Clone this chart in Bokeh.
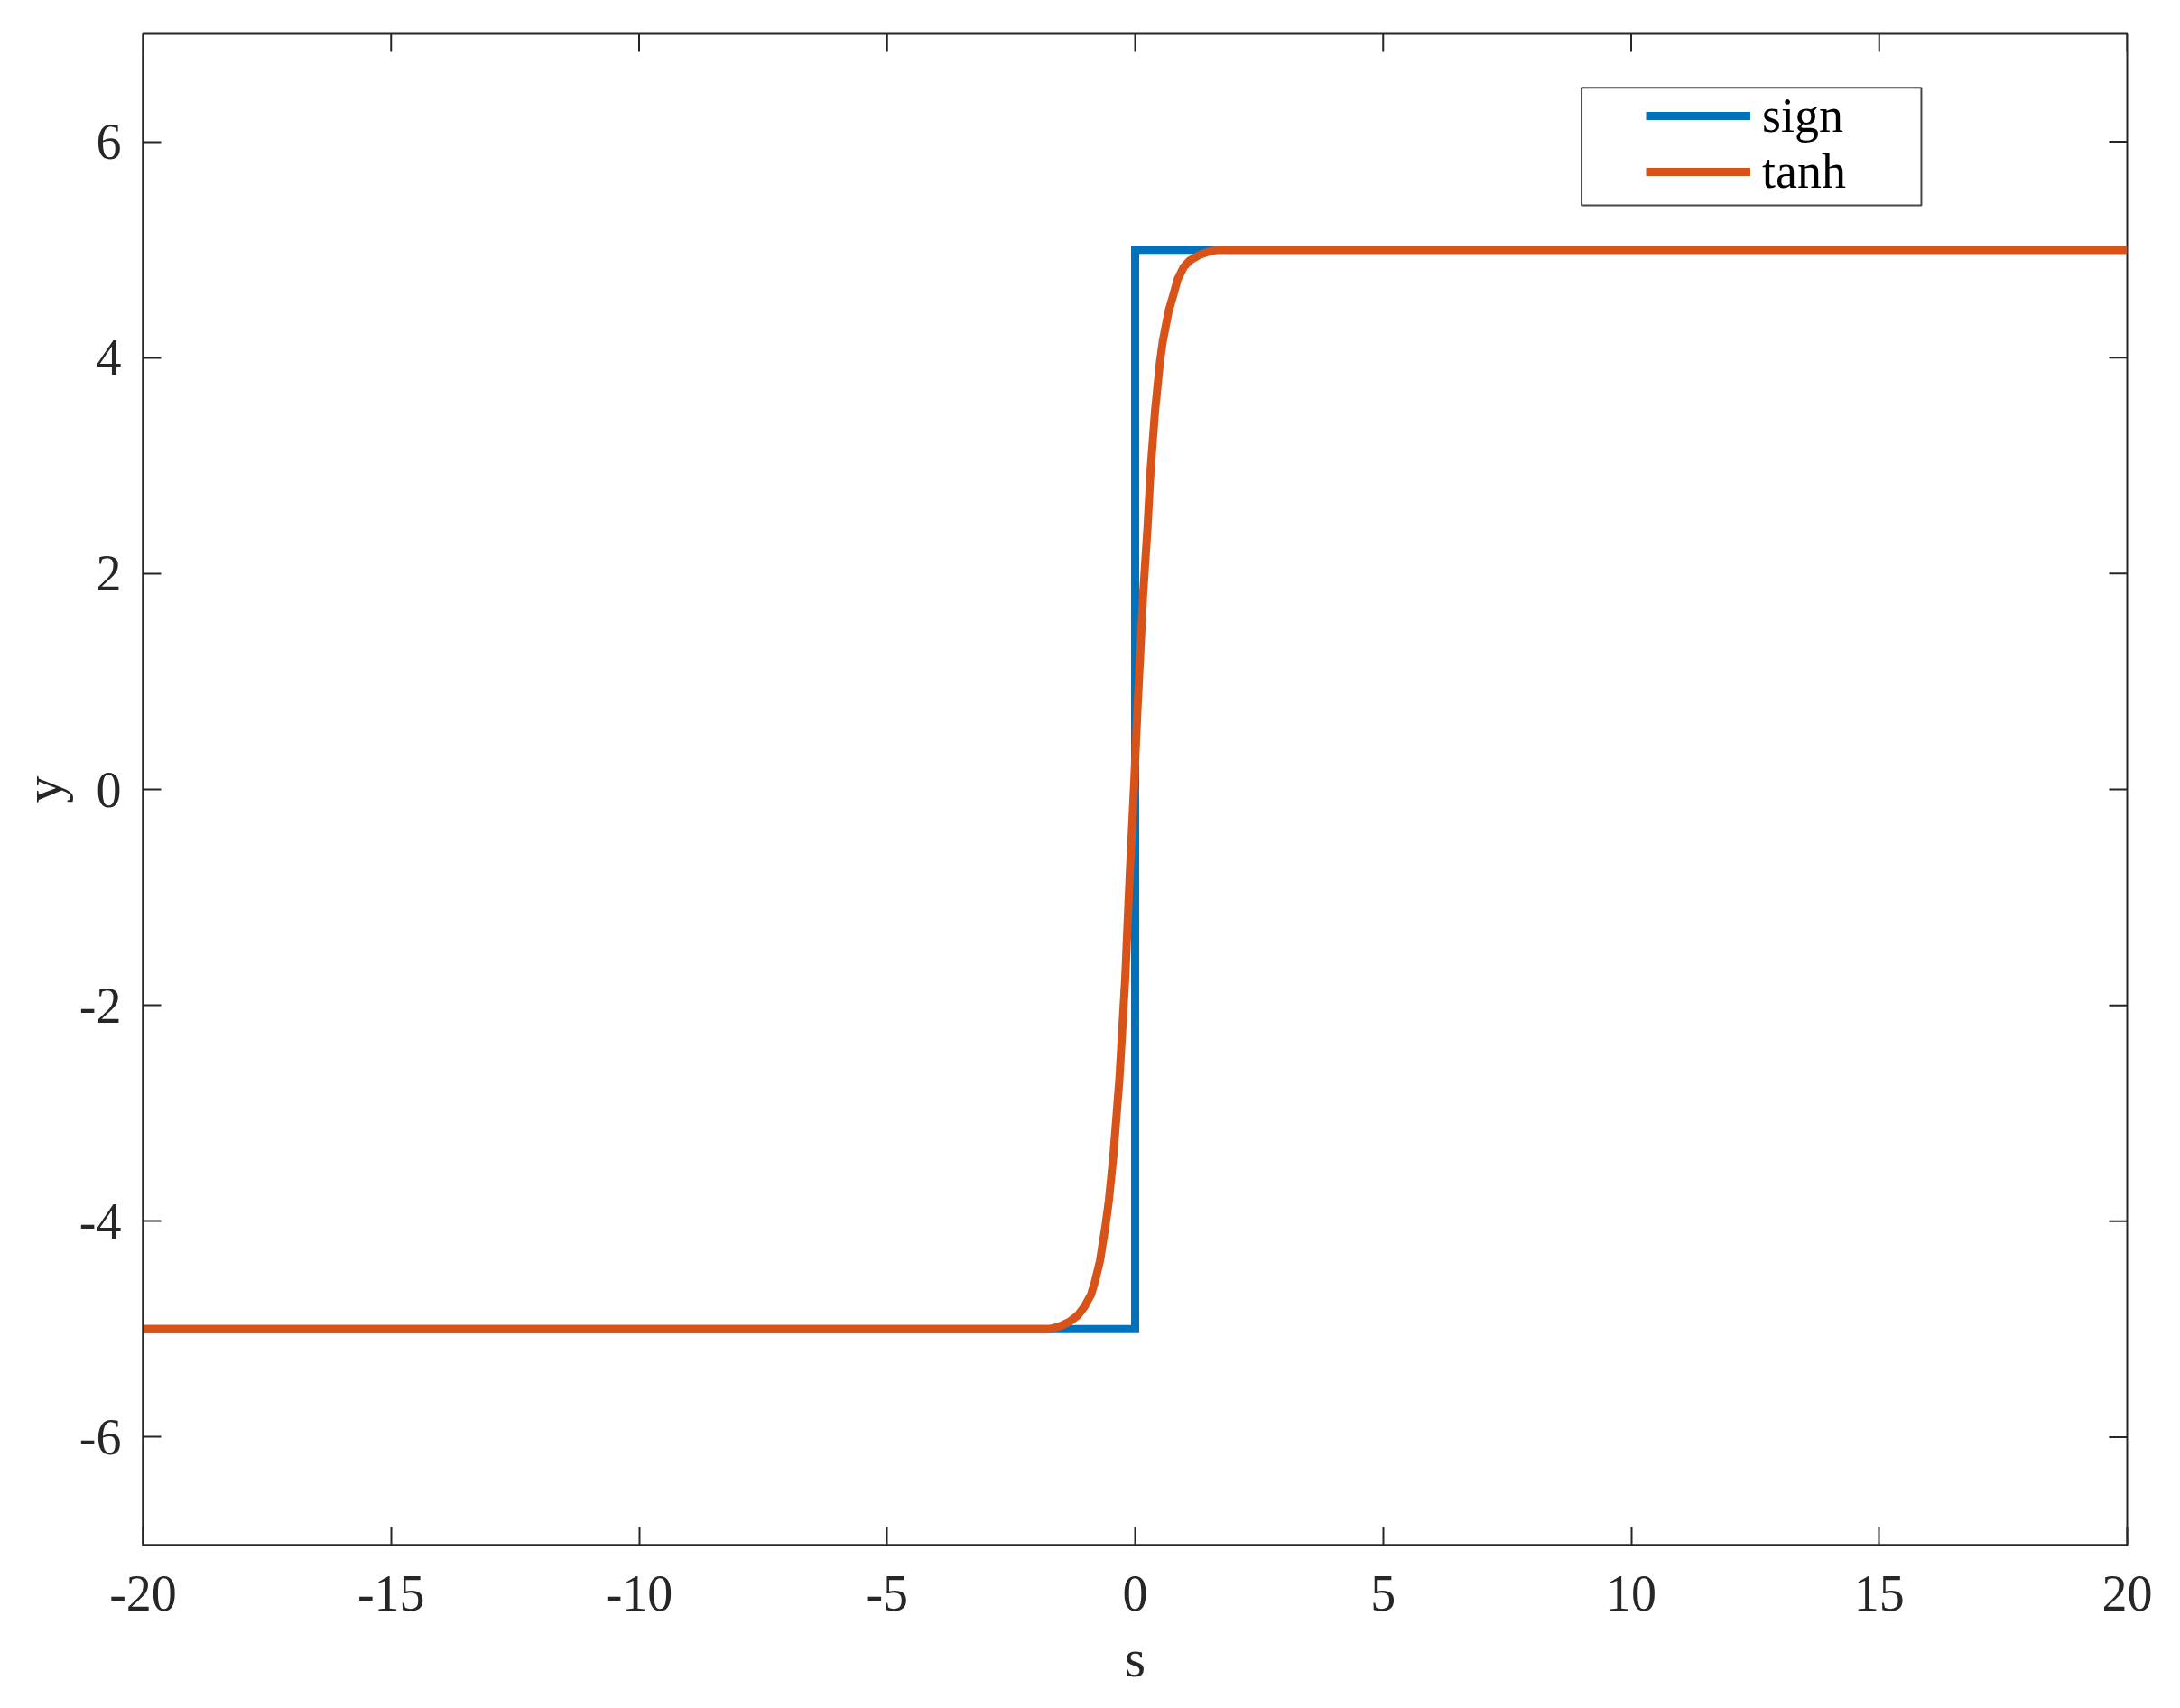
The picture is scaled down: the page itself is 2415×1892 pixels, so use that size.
import math
from bokeh.plotting import figure
from bokeh.models import Range1d, FixedTicker, Legend, LegendItem, BoxAnnotation, CustomJSTickFormatter
from bokeh.embed import file_html
from bokeh.resources import INLINE

# ---- data ----
sign_s = [-20, 0, 0, 20]
sign_y = [-5, -5, 5, 5]

tanh_s = [-20, -1.72, -1.50, -1.32, -1.15, -1.02, -0.89, -0.81, -0.71, -0.60,
          -0.53, -0.44, -0.38, -0.32, -0.29, -0.20, -0.11, -0.02, 0.04, 0.13,
          0.16, 0.25, 0.31, 0.40, 0.50, 0.56, 0.62, 0.68, 0.77, 0.86, 0.98,
          1.10, 1.29, 1.47, 1.65, 20]
tanh_y = [-5, -5.00, -4.97, -4.93, -4.87, -4.79, -4.68, -4.56, -4.37, -4.05,
          -3.81, -3.40, -3.05, -2.70, -2.47, -1.75, -0.80, 0.05, 0.68, 1.51,
          1.80, 2.43, 2.95, 3.50, 3.96, 4.16, 4.30, 4.44, 4.58, 4.73, 4.84,
          4.90, 4.95, 4.98, 5.00, 5]

x_ticks = [-20, -15, -10, -5, 0, 5, 10, 15, 20]
y_ticks = [-6, -4, -2, 0, 2, 4, 6]
x_min, x_max = -20, 20
y_min, y_max = -7, 7
x_label = "s"
y_label = "y"
names = ["sign", "tanh"]

BLUE = "#0072BD"
ORANGE = "#D95319"
AX = "#262626"
FONT = "Liberation Serif"

p = figure(width=2415, height=1892, output_backend="svg", toolbar_location=None,
           x_range=Range1d(x_min, x_max), y_range=Range1d(y_min, y_max),
           min_border_left=158, min_border_right=59, min_border_top=37, min_border_bottom=181)
p.xgrid.visible = False
p.ygrid.visible = False
p.outline_line_color = AX
p.outline_line_width = 2
p.background_fill_color = "white"
p.border_fill_color = "white"

fmt = CustomJSTickFormatter(code="return tick.toFixed(0)")

def style_axis(ax, ticks):
    ax.ticker = FixedTicker(ticks=ticks)
    ax.formatter = fmt
    ax.minor_tick_line_color = None
    ax.major_tick_in = 20
    ax.major_tick_out = 0
    ax.major_tick_line_color = AX
    ax.major_tick_line_width = 2
    ax.axis_line_color = AX
    ax.axis_line_width = 2
    ax.major_label_text_font = FONT
    ax.major_label_text_color = AX
    ax.major_label_text_font_size = "56px"
    ax.axis_label_text_font = FONT
    ax.axis_label_text_font_size = "60px"
    ax.axis_label_text_font_style = "normal"
    ax.axis_label_text_color = AX

xa = p.xaxis[0]
ya = p.yaxis[0]
style_axis(xa, x_ticks)
style_axis(ya, y_ticks)
xa.axis_label = x_label
ya.axis_label = y_label
xa.major_label_standoff = 34
ya.major_label_standoff = 24
xa.axis_label_standoff = 17
ya.axis_label_standoff = 4

# inward ticks on the top and right edges of the box
p.ray(x=x_ticks, y=[y_max] * len(x_ticks), length=20, length_units="screen",
      angle=-math.pi / 2, line_color=AX, line_width=2)
p.ray(x=[x_max] * len(y_ticks), y=y_ticks, length=20, length_units="screen",
      angle=math.pi, line_color=AX, line_width=2)

r1 = p.line(sign_s, sign_y, line_color=BLUE, line_width=9, line_join="miter")
r2 = p.line(tanh_s, tanh_y, line_color=ORANGE, line_width=9, line_join="round")

box = BoxAnnotation(left=9.0, right=15.85, bottom=5.41, top=6.5,
                    fill_color="white", fill_alpha=1.0,
                    line_color=AX, line_width=2, line_alpha=0.85)
p.add_layout(box)

legend = Legend(items=[LegendItem(label=names[0], renderers=[r1]),
                       LegendItem(label=names[1], renderers=[r2])],
                location=(1665, 1490), padding=0, margin=0, spacing=0,
                glyph_width=116, glyph_height=58, label_height=58,
                label_standoff=13, label_text_font=FONT, label_text_font_size="54px",
                label_text_color="black", border_line_alpha=0,
                background_fill_alpha=0)
p.add_layout(legend, "center")

open("out.html", "w").write(file_html(p, INLINE))
